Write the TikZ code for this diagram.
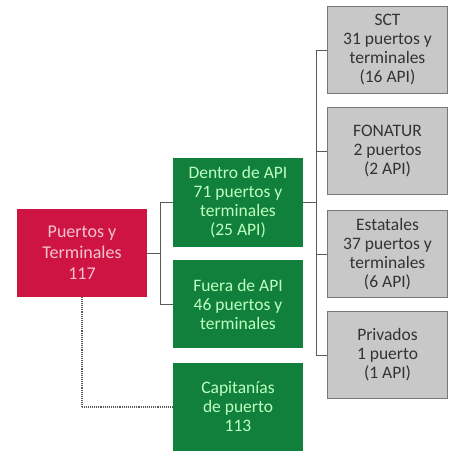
\documentclass[tikz,border=0pt]{standalone}
\usepackage{fontspec}
\setmainfont{Carlito}
\usetikzlibrary{positioning}

\definecolor{rojoapi}{RGB}{206,20,66}
\definecolor{verdeapi}{RGB}{16,128,60}
\definecolor{grisapi}{RGB}{200,200,200}
\definecolor{bordegris}{RGB}{120,120,120}
\definecolor{linea}{RGB}{90,90,90}

\tikzset{
  caja/.style={rectangle, align=center, inner sep=0pt, font=\fontsize{17.5}{19}\selectfont},
  cajaroja/.style={caja, fill=rojoapi, text=rojoapi!25, minimum width=130pt, minimum height=88pt, font=\fontsize{18}{21}\selectfont},
  cajaverde/.style={caja, fill=verdeapi, text=green!25!white, minimum width=130pt, minimum height=88pt},
  cajagris/.style={caja, fill=grisapi, draw=bordegris, line width=1.2pt, text=black!80, minimum width=120pt, minimum height=87pt},
  conector/.style={draw=linea, line width=0.9pt}
}

\begin{document}
\begin{tikzpicture}[x=1pt,y=1pt,yscale=-1,xscale=1]
\useasboundingbox (0,0) rectangle (451,454);

% nivel 1
\node [cajaroja] (puertos) at (82,253) {Puertos y\\Terminales\\117};

% nivel 2
\node [cajaverde] (dentro) at (238,202.5) {Dentro de API\\71 puertos y\\terminales\\(25 API)};
\node [cajaverde] (fuera) at (238,304) {Fuera de API\\46 puertos y\\terminales};
\node [cajaverde] (capitanias) at (238,407) {Capitanías\\de puerto\\113};

% nivel 3
\node [cajagris] (sct) at (387.5,50) {SCT\\31 puertos y\\terminales\\(16 API)};
\node [cajagris] (fonatur) at (387.5,151) {FONATUR\\2 puertos\\(2 API)};
\node [cajagris] (estatales) at (387.5,254) {Estatales\\37 puertos y\\terminales\\(6 API)};
\node [cajagris] (privados) at (387.5,355) {Privados\\1 puerto\\(1 API)};

% conectores
\coordinate (nodoizq) at ([xshift=13pt]puertos.east);
\coordinate (nododer) at ([xshift=13pt]dentro.east);
\draw [conector] (puertos.east) -- (nodoizq);
\draw [conector] (dentro.west) -| (nodoizq);
\draw [conector] (fuera.west) -| (nodoizq);
\draw [conector] (dentro.east) -- (nododer);
\draw [conector] (sct.west) -| (nododer);
\draw [conector] (fonatur.west) -| (nododer);
\draw [conector] (estatales.west) -| (nododer);
\draw [conector] (privados.west) -| (nododer);
\draw [conector, densely dotted, line width=1.2pt] (puertos.south) |- (capitanias.west);

\end{tikzpicture}
\end{document}
